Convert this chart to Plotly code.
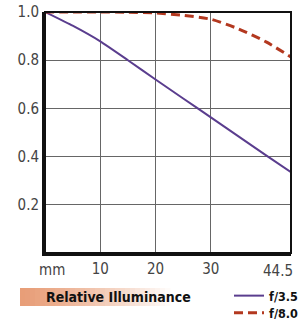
import plotly.graph_objects as go

# ---- data ----
field_mm = [0, 5, 10, 15, 20, 25, 30, 35, 40, 44.5]
illum_f35 = [1.0, 0.943, 0.878, 0.80, 0.72, 0.641, 0.563, 0.484, 0.405, 0.335]
illum_f80 = [1.0, 1.0, 1.0, 0.999, 0.996, 0.986, 0.97, 0.93, 0.876, 0.813]
series_names = ["f/3.5", "f/8.0"]
x_ticks = [10, 20, 30]
x_end_tick = [44.5]
x_end_text = ["44.5"]
y_ticks = [0.2, 0.4, 0.6, 0.8, 1.0]
y_tick_text = ["0.2", "0.4", "0.6", "0.8", "1.0"]
title_text = "Relative Illuminance"
unit_text = "mm"

FONT = "DejaVu Sans Condensed, Liberation Sans, Arial, sans-serif"
PURPLE = "#5a3d8e"
RED = "#b3381f"

fig = go.Figure()
fig.add_trace(go.Scatter(x=field_mm, y=illum_f35, mode="lines", name=series_names[0],
                         legend="legend",
                         line=dict(color=PURPLE, width=2, shape="spline", smoothing=0.4)))
fig.add_trace(go.Scatter(x=field_mm, y=illum_f80, mode="lines", name=series_names[1],
                         legend="legend2",
                         line=dict(color=RED, width=3, dash="9px,5px", shape="spline", smoothing=0.6)))
# carrier so the overlaid end-tick axis is drawn (draws no mark)
fig.add_trace(go.Scatter(x=x_end_tick, y=[illum_f35[-1]], mode="none", xaxis="x2",
                         showlegend=False, hoverinfo="skip"))

L, R, T, B = 45, 13, 12, 66
W, H = 304, 319
pw = W - L - R
ph = H - T - B

def px_x(p):
    return (p - L) / pw

def px_y(p):
    return (H - B - p) / ph

shapes = []
# gradient band behind title
n = 30
x0, x1 = 20, 170
c0 = (232, 158, 120)
for i in range(n):
    t = (i / n) ** 1.2
    col = tuple(int(c0[k] + (255 - c0[k]) * t) for k in range(3))
    shapes.append(dict(type="rect", xref="paper", yref="paper", layer="below",
                       x0=px_x(x0 + (x1 - x0) * i / n), x1=px_x(x0 + (x1 - x0) * (i + 1) / n + 0.5),
                       y0=px_y(306), y1=px_y(288),
                       fillcolor="rgb(%d,%d,%d)" % col, line=dict(width=0)))
# frame
shapes.append(dict(type="rect", xref="paper", yref="paper", x0=0, x1=1, y0=0, y1=1,
                   line=dict(color="#111", width=2), layer="above"))

legend_font = dict(family=FONT, size=12.5, color="#111", weight="bold")
x_range = [0, 44.5]
fig.update_layout(
    width=W, height=H,
    margin=dict(l=L, r=R, t=T, b=B, autoexpand=False),
    paper_bgcolor="white", plot_bgcolor="white",
    font=dict(family=FONT, size=15, color="#444"),
    showlegend=True,
    legend=dict(x=px_x(229), y=px_y(281), xanchor="left", yanchor="top",
                bgcolor="rgba(0,0,0,0)", itemwidth=30, font=legend_font),
    legend2=dict(x=px_x(229), y=px_y(298), xanchor="left", yanchor="top",
                 bgcolor="rgba(0,0,0,0)", itemwidth=30, font=legend_font),
    shapes=shapes,
    annotations=[
        dict(text=title_text, xref="paper", yref="paper", x=px_x(44), y=px_y(297),
             xanchor="left", yanchor="middle", showarrow=False,
             font=dict(family=FONT, size=14, color="#111", weight="bold")),
        dict(text=unit_text, xref="paper", yref="paper", x=px_x(52), y=px_y(270),
             xanchor="center", yanchor="middle", showarrow=False,
             font=dict(family=FONT, size=15, color="#444")),
    ],
    xaxis=dict(tickvals=x_ticks, range=x_range,
               showgrid=True, gridcolor="#666", gridwidth=1, zeroline=False,
               showline=True, linecolor="#111", linewidth=3, ticks="",
               fixedrange=True),
    xaxis2=dict(overlaying="x", anchor="y", side="bottom", range=x_range,
                tickvals=x_end_tick, ticktext=x_end_text, ticklabelshift=-13,
                ticklabelstandoff=7, ticklabeloverflow="allow",
                showgrid=False, zeroline=False, showline=False, ticks="",
                fixedrange=True),
    yaxis=dict(range=[0, 1.0], tickvals=y_ticks, ticktext=y_tick_text,
               showgrid=True, gridcolor="#666", gridwidth=1, zeroline=False,
               showline=True, linecolor="#111", linewidth=3, ticks="",
               fixedrange=True),
)

fig.write_html("out.html", config=dict(displayModeBar=False),
               post_script="document.body.style.margin='0';document.body.style.overflow='hidden';")
